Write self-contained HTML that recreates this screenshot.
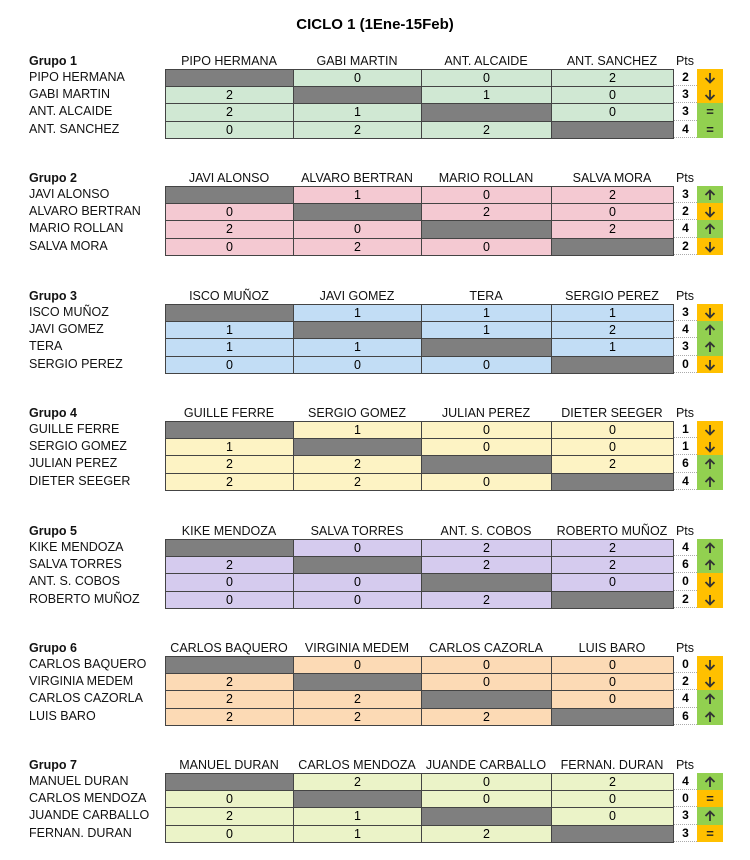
<!DOCTYPE html>
<html><head><meta charset="utf-8"><style>
body{margin:0;width:750px;height:860px;background:#fff;font-family:"Liberation Sans",Arial,sans-serif;position:relative;overflow:hidden}
div{position:absolute;box-sizing:border-box}
.t{left:0;width:750px;top:16px;text-align:center;font-weight:bold;font-size:15px}
.n{font-size:12.5px;line-height:17px;white-space:nowrap;color:#111}
.c{font-size:12.5px;line-height:16px;text-align:center;border:1px solid #444;}
.h{font-size:12.5px;text-align:center;line-height:14px;white-space:nowrap;color:#111}
.p{font-size:12px;font-weight:bold;text-align:center;line-height:17px;border-bottom:1px dotted #aaa}
.a{font-size:13px;font-weight:bold;text-align:center;line-height:17px;color:#222}
.a svg{position:absolute;left:7px;top:3px}
</style></head><body>
<div class="t">CICLO 1 (1Ene-15Feb)</div>
<script>
var G=[
["#d0e8d3",["PIPO HERMANA","GABI MARTIN","ANT. ALCAIDE","ANT. SANCHEZ"],[[null,0,0,2],[2,null,1,0],[2,1,null,0],[0,2,2,null]],[2,3,3,4],["↓o","↓o","=g","=g"]],
["#f4c9d2",["JAVI ALONSO","ALVARO BERTRAN","MARIO ROLLAN","SALVA MORA"],[[null,1,0,2],[0,null,2,0],[2,0,null,2],[0,2,0,null]],[3,2,4,2],["↑g","↓o","↑g","↓o"]],
["#c2ddf5",["ISCO MUÑOZ","JAVI GOMEZ","TERA","SERGIO PEREZ"],[[null,1,1,1],[1,null,1,2],[1,1,null,1],[0,0,0,null]],[3,4,3,0],["↓o","↑g","↑g","↓o"]],
["#fdf3c4",["GUILLE FERRE","SERGIO GOMEZ","JULIAN PEREZ","DIETER SEEGER"],[[null,1,0,0],[1,null,0,0],[2,2,null,2],[2,2,0,null]],[1,1,6,4],["↓o","↓o","↑g","↑g"]],
["#d5cbee",["KIKE MENDOZA","SALVA TORRES","ANT. S. COBOS","ROBERTO MUÑOZ"],[[null,0,2,2],[2,null,2,2],[0,0,null,0],[0,0,2,null]],[4,6,0,2],["↑g","↑g","↓o","↓o"]],
["#fcdab5",["CARLOS BAQUERO","VIRGINIA MEDEM","CARLOS CAZORLA","LUIS BARO"],[[null,0,0,0],[2,null,0,0],[2,2,null,0],[2,2,2,null]],[0,2,4,6],["↓o","↓o","↑g","↑g"]],
["#ebf3c8",["MANUEL DURAN","CARLOS MENDOZA","JUANDE CARBALLO","FERNAN. DURAN"],[[null,2,0,2],[0,null,0,0],[2,1,null,0],[0,1,2,null]],[4,0,3,3],["↑g","=o","↑g","=o"]]
];
var UP='<svg width="12" height="12" viewBox="0 0 12 12"><path d="M6 11V1.5M1.5 6L6 1.5 10.5 6" fill="none" stroke="#333" stroke-width="1.8"/></svg>';
var DN='<svg width="12" height="12" viewBox="0 0 12 12"><path d="M6 1v9.5M1.5 6L6 10.5 10.5 6" fill="none" stroke="#333" stroke-width="1.8"/></svg>';
var X=[165,293,421,551,673],h="";
G.forEach(function(g,i){
 var top=Math.round(69+i*117.4);
 h+='<div class="n" style="left:29px;top:'+(top-16)+'px;font-weight:bold">Grupo '+(i+1)+'</div>';
 for(var k=0;k<4;k++) h+='<div class="h" style="left:'+X[k]+'px;width:'+(X[k+1]-X[k])+'px;top:'+(top-15)+'px">'+g[1][k]+'</div>';
 h+='<div class="h" style="left:673px;width:24px;top:'+(top-15)+'px">Pts</div>';
 for(var r=0;r<4;r++){
  var y=Math.round(top+r*17.2), y2=Math.round(top+(r+1)*17.2), hh=y2-y;
  h+='<div class="n" style="left:29px;top:'+y+'px">'+g[1][r]+'</div>';
  for(var k=0;k<4;k++){var v=g[2][r][k];
   h+='<div class="c" style="left:'+X[k]+'px;width:'+(X[k+1]-X[k]+1)+'px;top:'+y+'px;height:'+(hh+1)+'px;background:'+(v===null?'#7f7f7f':g[0])+'">'+(v===null?'':v)+'</div>';}
  h+='<div class="p" style="left:674px;width:23px;top:'+y+'px;height:'+hh+'px">'+g[3][r]+'</div>';
  var a=g[4][r];
  var inner=a[0]=='↑'?UP:(a[0]=='↓'?DN:'=');
  h+='<div class="a" style="left:697px;width:26px;top:'+y+'px;height:'+hh+'px;background:'+(a[1]=='o'?'#ffc000':'#92d050')+'">'+inner+'</div>';
 }
});
document.write(h);
</script>
</body></html>
